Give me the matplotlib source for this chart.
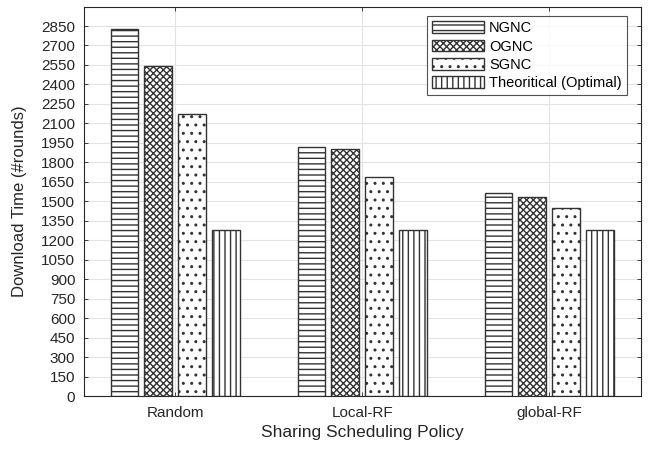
import numpy as np
import matplotlib
matplotlib.use('Agg')
import matplotlib.pyplot as plt

plt.rcParams['font.family'] = ['Liberation Sans', 'DejaVu Sans']
plt.rcParams['hatch.linewidth'] = 1.0

policies = ['Random', 'Local-RF', 'global-RF']
series = ['NGNC', 'OGNC', 'SGNC', 'Theoritical (Optimal)']
ngnc = [2830, 1920, 1565]
ognc = [2540, 1900, 1530]
sgnc = [2175, 1690, 1452]
optimal = [1280, 1280, 1280]
hatches = ['---', 'xxxxx', '..', '|||']
yticks = np.arange(0, 2851, 150)

fig = plt.figure(figsize=(6.48, 4.49), dpi=100)
ax = fig.add_axes([0.129, 0.118, 0.860, 0.866])

x = np.arange(1, len(policies) + 1)
width = 0.149
pitch = 0.181
for i, (name, vals, h) in enumerate(zip(series, [ngnc, ognc, sgnc, optimal], hatches)):
    ax.bar(x + (i - 1.5) * pitch, vals, width, label=name, color='white',
           edgecolor='#333333', linewidth=1.0, hatch=h, zorder=3)

ax.set_xlim(0.51, 3.49)
ax.set_ylim(0, 2995)
ax.set_xticks(x)
ax.set_xticklabels(policies)
ax.set_yticks(yticks)
ax.tick_params(direction='in', top=True, right=True, labelsize=11,
               colors='#262626', length=3, width=0.6)
ax.tick_params(axis='x', pad=7)
ax.tick_params(axis='y', pad=6)
ax.grid(True, color='#e3e3e3', linewidth=0.8, zorder=0)
for s in ax.spines.values():
    s.set_color('#262626')
    s.set_linewidth(0.8)

ax.set_xlabel('Sharing Scheduling Policy', fontsize=12.5, color='#262626', labelpad=4)
ax.set_ylabel('Download Time (#rounds)', fontsize=12, color='#262626', labelpad=10)

leg = ax.legend(loc='upper right', bbox_to_anchor=(0.975, 0.977), fontsize=10.5,
                frameon=True, fancybox=False, edgecolor='#262626',
                handlelength=3.6, handleheight=0.85, handletextpad=0.35,
                labelspacing=0.3, borderpad=0.35, borderaxespad=0.0)
leg.get_frame().set_linewidth(0.8)

plt.savefig('out.png', dpi=100)
plt.close()
